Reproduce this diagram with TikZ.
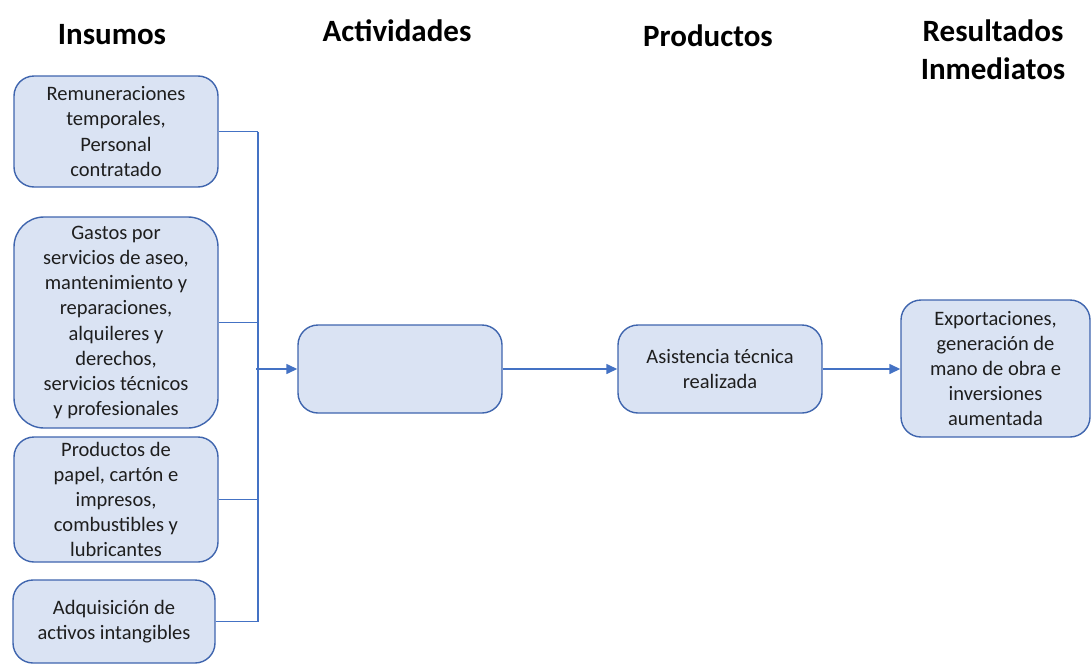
\documentclass[tikz,border=0pt]{standalone}
\usepackage{fontspec}
\setmainfont{Carlito}
\usetikzlibrary{arrows.meta}
\definecolor{boxfill}{HTML}{DAE3F3}
\definecolor{boxdraw}{HTML}{3F65AE}
\definecolor{conncol}{HTML}{4472C4}
\definecolor{txt}{HTML}{1E1E1E}
\tikzset{
  box/.style={draw=boxdraw, fill=boxfill, line width=1.4pt, rounded corners=20pt,
    align=center, text=txt, inner sep=0pt, font=\fontsize{20.5}{25.2}\selectfont},
  hdr/.style={align=center, inner sep=0pt, font=\fontsize{31}{38}\selectfont\bfseries},
  conn/.style={draw=conncol, line width=1.4pt},
  arr/.style={conn, -{Triangle[length=11pt,width=10pt]}}
}
\begin{document}
\begin{tikzpicture}[x=1pt,y=-1pt]
\useasboundingbox (0,0) rectangle (1092,664);
% headers
\node[hdr] (h1) at (112,35) {Insumos};
\node[hdr] (h2) at (397,31) {Actividades};
\node[hdr] (h3) at (708,36) {Productos};
\node[hdr] (h4) at (993,50) {Resultados\\Inmediatos};
% input boxes
\node[box, minimum width=204pt, minimum height=111pt] (b1) at (116,131.5)
  {Remuneraciones\\temporales,\\Personal\\contratado};
\node[box, minimum width=204pt, minimum height=211pt, rounded corners=30pt] (b2) at (116,322.5)
  {Gastos por\\servicios de aseo,\\mantenimiento y\\reparaciones,\\alquileres y\\derechos,\\servicios técnicos\\y profesionales};
\node[box, minimum width=204pt, minimum height=125pt] (b3) at (116,499.5)
  {Productos de\\papel, cartón e\\impresos,\\combustibles y\\lubricantes};
\node[box, minimum width=202pt, minimum height=83pt] (b4) at (114,621.5)
  {Adquisición de\\activos intangibles};
% chain
\node[box, minimum width=204pt, minimum height=88pt] (act) at (400,369) {};
\node[box, minimum width=204pt, minimum height=88pt] (asis) at (720,369)
  {Asistencia técnica\\realizada};
\node[box, minimum width=189pt, minimum height=137pt] (res) at (995.5,368.5)
  {Exportaciones,\\generación de\\mano de obra e\\inversiones\\aumentada};
% bus
\coordinate (busx) at (258,0);
\coordinate (arrx) at (256,0);
\draw[conn] (b1.east) -- (b1.east -| busx);
\draw[conn] (b2.east) -- (b2.east -| busx);
\draw[conn] (b3.east) -- (b3.east -| busx);
\draw[conn] (b4.east) -- (b4.east -| busx);
\draw[conn] (b1.east -| busx) -- (b4.east -| busx);
\draw[arr] (arrx |- act.west) -- (act.west);
\draw[arr] (act.east) -- (asis.west);
\draw[arr] (asis.east) -- (res.west |- asis.east);
\end{tikzpicture}
\end{document}
